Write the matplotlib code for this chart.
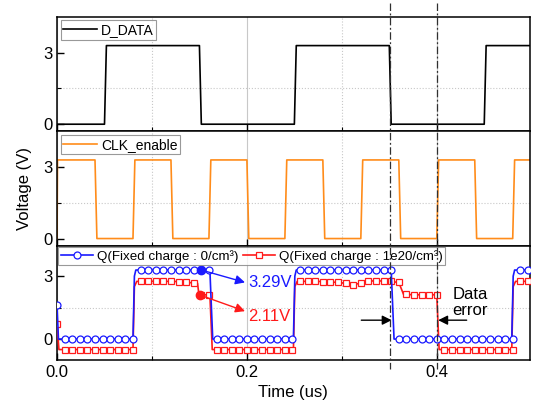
import matplotlib
matplotlib.use("Agg")
import matplotlib.pyplot as plt
import matplotlib.transforms as mtransforms
from matplotlib.lines import Line2D
from matplotlib.ticker import FixedLocator, MultipleLocator
import numpy as np

plt.rcParams['font.family'] = ['Liberation Sans', 'DejaVu Sans']

# input data signal (us, V)
data_t = [0, 0.050, 0.052, 0.150, 0.152, 0.250, 0.252, 0.350, 0.352, 0.450, 0.452, 0.498]
data_v = [0, 0, 3.3, 3.3, 0, 0, 3.3, 3.3, 0, 0, 3.3, 3.3]

# clock enable
clk_t = [0, 0.0005, 0.040, 0.042, 0.080, 0.082, 0.120, 0.122, 0.160, 0.162,
         0.200, 0.202, 0.240, 0.242, 0.280, 0.282, 0.320, 0.322, 0.360, 0.362,
         0.400, 0.402, 0.440, 0.442, 0.480, 0.482, 0.498]
clk_v = [0, 3.3, 3.3, 0, 0, 3.3, 3.3, 0, 0, 3.3,
         3.3, 0, 0, 3.3, 3.3, 0, 0, 3.3, 3.3, 0,
         0, 3.3, 3.3, 0, 0, 3.3, 3.3]

# Q output, no fixed charge
q0_t = [0, 0.0015, 0.080, 0.0815, 0.083, 0.161, 0.164, 0.249, 0.2505, 0.252,
        0.352, 0.355, 0.479, 0.4805, 0.482, 0.498]
q0_v = [1.6, 0, 0, 3.0, 3.29, 3.29, 0, 0, 3.0, 3.29,
        3.29, 0, 0, 3.0, 3.29, 3.29]

# Q output, fixed charge 1e20/cm3
q1_t = [0, 0.002, 0.080, 0.0815, 0.084, 0.120, 0.128, 0.136, 0.144, 0.148,
        0.1495, 0.161, 0.1635, 0.249, 0.2505, 0.253, 0.272, 0.280, 0.288, 0.296,
        0.304, 0.312, 0.320, 0.322, 0.352, 0.356, 0.360, 0.365, 0.376, 0.400,
        0.4025, 0.479, 0.4805, 0.483, 0.498]
q1_v = [0.7, -0.5, -0.5, 2.5, 2.75, 2.75, 2.74, 2.71, 2.67, 2.66,
        2.11, 2.11, -0.5, -0.5, 2.5, 2.75, 2.75, 2.74, 2.72, 2.70,
        2.66, 2.60, 2.66, 2.77, 2.77, 2.72, 2.70, 2.13, 2.11, 2.11,
        -0.5, -0.5, 2.5, 2.75, 2.75]

# marker samples every 0.008 us
mark_t = np.arange(0, 0.497, 0.008)
q0_mark = [1.6, 0, 0, 0, 0, 0, 0, 0, 0, 0,
           0, 3.29, 3.29, 3.29, 3.29, 3.29, 3.29, 3.29, 3.29, 3.29,
           3.29, 0, 0, 0, 0, 0, 0, 0, 0, 0,
           0, 0, 3.29, 3.29, 3.29, 3.29, 3.29, 3.29, 3.29, 3.29,
           3.29, 3.29, 3.29, 3.29, 3.29, 0, 0, 0, 0, 0,
           0, 0, 0, 0, 0, 0, 0, 0, 0, 0,
           0, 3.29, 3.29]
q1_mark = [0.7, -0.5, -0.5, -0.5, -0.5, -0.5, -0.5, -0.5, -0.5, -0.5,
           -0.5, 2.75, 2.75, 2.75, 2.75, 2.75, 2.74, 2.71, 2.67, 2.11,
           2.11, -0.5, -0.5, -0.5, -0.5, -0.5, -0.5, -0.5, -0.5, -0.5,
           -0.5, -0.5, 2.75, 2.75, 2.75, 2.74, 2.72, 2.70, 2.66, 2.60,
           2.66, 2.77, 2.77, 2.77, 2.77, 2.70, 2.13, 2.11, 2.11, 2.11,
           2.11, -0.5, -0.5, -0.5, -0.5, -0.5, -0.5, -0.5, -0.5, -0.5,
           -0.5, 2.75, 2.75]

err_t = [0.351, 0.400]

blue = '#1a1aff'
red = '#ff1a1a'
orange = '#ff8c1a'

fig = plt.figure(figsize=(5.33, 4.05), dpi=100)
left, right, top, bottom = 0.107, 0.994, 0.958, 0.111
h = (top - bottom) / 3
axes = [fig.add_axes([left, top - (i + 1) * h, right - left, h]) for i in range(3)]
ax1, ax2, ax3 = axes

for ax in axes:
    ax.set_xlim(0, 0.498)
    ax.xaxis.set_major_locator(MultipleLocator(0.2))
    ax.xaxis.set_minor_locator(FixedLocator([0.1, 0.3]))
    ax.yaxis.set_major_locator(FixedLocator([0, 3]))
    ax.yaxis.set_minor_locator(FixedLocator([1.5]))
    ax.tick_params(which='both', direction='in', top=False, right=False, labelsize=12)
    ax.tick_params(which='major', length=5, width=1)
    ax.tick_params(which='minor', length=3, width=0.8)
    ax.grid(which='major', axis='x', color='#c8c8c8', lw=0.8)
    ax.grid(which='minor', axis='both', color='#c8c8c8', lw=0.8, ls=':')
    ax.set_axisbelow(True)
    for s in ax.spines.values():
        s.set_linewidth(1.1)

ax1.set_ylim(-0.3, 4.5)
ax2.set_ylim(-0.3, 4.5)
ax3.set_ylim(-1.0, 4.45)
ax1.tick_params(labelbottom=False)
ax2.tick_params(labelbottom=False)

leg_kw = dict(loc='upper left', fontsize=10, fancybox=False, edgecolor='#808080',
              borderpad=0.2, borderaxespad=0.25, handlelength=2.4, handletextpad=0.3)

ax1.plot(data_t, data_v, color='black', lw=1.2, label='D_DATA')
lg = ax1.legend(**leg_kw)
lg.get_frame().set_linewidth(0.8)

ax2.plot(clk_t, clk_v, color=orange, lw=1.2, label='CLK_enable')
lg = ax2.legend(**leg_kw)
lg.get_frame().set_linewidth(0.8)
ax2.set_ylabel('Voltage (V)', fontsize=12, labelpad=8)

ax3.plot(q1_t, q1_v, color=red, lw=1.2, zorder=3)
ax3.plot(mark_t, q1_mark, ls='none', marker='s', ms=4.5, mfc='white', mec=red, mew=0.9, zorder=4)
ax3.plot(q0_t, q0_v, color=blue, lw=1.2, zorder=5)
ax3.plot(mark_t, q0_mark, ls='none', marker='o', ms=5, mfc='white', mec=blue, mew=0.9, zorder=6)

# sampled levels
ax3.plot([0.152], [3.29], 'o', color=blue, ms=6, zorder=7)
ax3.plot([0.151], [2.09], 'o', color=red, ms=6, zorder=7)
arr = dict(arrowstyle='-|>', lw=1, mutation_scale=14, shrinkA=0, shrinkB=0)
ax3.annotate('', xy=(0.198, 2.7), xytext=(0.152, 3.29),
             arrowprops=dict(arr, color=blue), zorder=8)
ax3.annotate('', xy=(0.198, 1.33), xytext=(0.151, 2.09),
             arrowprops=dict(arr, color=red), zorder=8)
ax3.text(0.201, 2.68, '3.29V', color=blue, fontsize=12, va='center', ha='left')
ax3.text(0.201, 1.09, '2.11V', color=red, fontsize=12, va='center', ha='left')

ax3.annotate('', xy=(0.3525, 0.9), xytext=(0.3205, 0.9),
             arrowprops=dict(arr, color='black'))
ax3.annotate('', xy=(0.4015, 0.9), xytext=(0.4315, 0.9),
             arrowprops=dict(arr, color='black'))
ax3.text(0.4165, 1.75, 'Data\nerror', fontsize=12, va='center', ha='left', linespacing=1.1)

h0 = Line2D([], [], color=blue, lw=1.2, marker='o', ms=5, mfc='white', mec=blue, mew=0.9)
h1 = Line2D([], [], color=red, lw=1.2, marker='s', ms=4.5, mfc='white', mec=red, mew=0.9)
lg = ax3.legend([h0, h1], ['Q(Fixed charge : 0/cm³)', 'Q(Fixed charge : 1e20/cm³)'],
                ncol=2, columnspacing=0.3, **dict(leg_kw, fontsize=9.6, borderaxespad=0.1))
lg.get_frame().set_linewidth(0.8)
lg.set_zorder(10)

ax3.set_xlabel('Time (us)', fontsize=12, labelpad=4)
ax3.set_xticks([0.0, 0.2, 0.4])
ax3.set_xticklabels(['0.0', '0.2', '0.4'])

# dash-dot markers across all panels
tr = mtransforms.blended_transform_factory(ax3.transData, fig.transFigure)
for t in err_t:
    fig.add_artist(Line2D([t, t], [0.993, 0.089], transform=tr, color='#303030',
                          lw=0.9, ls=(0, (6, 2, 1.5, 2)), zorder=20))

fig.savefig('out.png', dpi=100)
